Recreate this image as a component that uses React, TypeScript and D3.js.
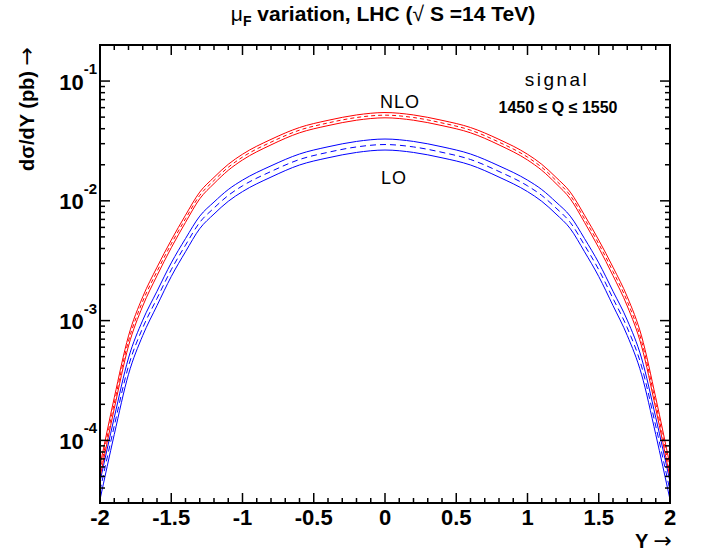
import React from "react";
import * as d3 from "d3";

const rapidity = [
  -2, -1.9, -1.8, -1.7, -1.6, -1.5, -1.4, -1.3, -1.2, -1.1, -1.0, -0.8, -0.6, -0.4, -0.2, 0,
  0.2, 0.4, 0.6, 0.8, 1.0, 1.1, 1.2, 1.3, 1.4, 1.5, 1.6, 1.7, 1.8, 1.9, 2,
];

const nloCentral = [
  5.5e-5, 2.04e-4, 6.76e-4, 1.45e-3, 2.57e-3, 4.37e-3, 7.08e-3, 1.109e-2, 1.479e-2, 1.905e-2, 2.317e-2, 3.09e-2, 3.89e-2, 4.47e-2, 4.96e-2, 5.19e-2,
  4.96e-2, 4.47e-2, 3.89e-2, 3.09e-2, 2.317e-2, 1.905e-2, 1.479e-2, 1.109e-2, 7.08e-3, 4.37e-3, 2.57e-3, 1.45e-3, 6.76e-4, 2.04e-4, 5.5e-5,
];
const nloUpper = [
  6.17e-5, 2.27e-4, 7.45e-4, 1.58e-3, 2.79e-3, 4.7e-3, 7.59e-3, 1.183e-2, 1.57e-2, 2.018e-2, 2.449e-2, 3.258e-2, 4.093e-2, 4.699e-2, 5.212e-2, 5.458e-2,
  5.212e-2, 4.699e-2, 4.093e-2, 3.258e-2, 2.449e-2, 2.018e-2, 1.57e-2, 1.183e-2, 7.59e-3, 4.7e-3, 2.79e-3, 1.58e-3, 7.45e-4, 2.27e-4, 6.17e-5,
];
const nloLower = [
  4.9e-5, 1.84e-4, 6.14e-4, 1.324e-3, 2.371e-3, 4.055e-3, 6.607e-3, 1.04e-2, 1.393e-2, 1.799e-2, 2.193e-2, 2.931e-2, 3.698e-2, 4.246e-2, 4.71e-2, 4.932e-2,
  4.71e-2, 4.246e-2, 3.698e-2, 2.931e-2, 2.193e-2, 1.799e-2, 1.393e-2, 1.04e-2, 6.607e-3, 4.055e-3, 2.371e-3, 1.324e-3, 6.14e-4, 1.84e-4, 4.9e-5,
];
const loCentral = [
  3.8e-5, 1.318e-4, 4.169e-4, 8.71e-4, 1.531e-3, 2.661e-3, 4.266e-3, 6.607e-3, 8.71e-3, 1.109e-2, 1.334e-2, 1.758e-2, 2.213e-2, 2.541e-2, 2.818e-2, 2.951e-2,
  2.818e-2, 2.541e-2, 2.213e-2, 1.758e-2, 1.334e-2, 1.109e-2, 8.71e-3, 6.607e-3, 4.266e-3, 2.661e-3, 1.531e-3, 8.71e-4, 4.169e-4, 1.318e-4, 3.8e-5,
];
const loUpper = [
  4.52e-5, 1.552e-4, 4.875e-4, 1.009e-3, 1.758e-3, 3.034e-3, 4.842e-3, 7.447e-3, 9.772e-3, 1.242e-2, 1.489e-2, 1.959e-2, 2.46e-2, 2.825e-2, 3.133e-2, 3.281e-2,
  3.133e-2, 2.825e-2, 2.46e-2, 1.959e-2, 1.489e-2, 1.242e-2, 9.772e-3, 7.447e-3, 4.842e-3, 3.034e-3, 1.758e-3, 1.009e-3, 4.875e-4, 1.552e-4, 4.52e-5,
];
const loLower = [
  3.2e-5, 1.119e-4, 3.565e-4, 7.516e-4, 1.334e-3, 2.333e-3, 3.758e-3, 5.861e-3, 7.762e-3, 9.908e-3, 1.194e-2, 1.578e-2, 1.991e-2, 2.286e-2, 2.535e-2, 2.655e-2,
  2.535e-2, 2.286e-2, 1.991e-2, 1.578e-2, 1.194e-2, 9.908e-3, 7.762e-3, 5.861e-3, 3.758e-3, 2.333e-3, 1.334e-3, 7.516e-4, 3.565e-4, 1.119e-4, 3.2e-5,
];

const xMajorTicks = [-2, -1.5, -1, -0.5, 0, 0.5, 1, 1.5, 2];
const xTickLabels = ["-2", "-1.5", "-1", "-0.5", "0", "0.5", "1", "1.5", "2"];
const yMajorExponents = [-4, -3, -2, -1];
const yDomain = [3e-5, 0.2];
const xDomain = [-2, 2];

const W = 703;
const H = 553;
const M = { left: 100, right: 670, top: 45, bottom: 503 };
const FONT = "'Liberation Sans', Arial, Helvetica, sans-serif";
const ARROW_FONT = "'DejaVu Sans', sans-serif";

export default function App() {
  const x = d3.scaleLinear().domain(xDomain).range([M.left, M.right]);
  const y = d3.scaleLog().domain(yDomain).range([M.bottom, M.top]);

  const mk = (vals: number[]) =>
    d3
      .line<number>()
      .x((_, i) => x(rapidity[i]))
      .y((v) => y(v))
      .curve(d3.curveMonotoneX)(vals) as string;

  const xMinor: number[] = d3
    .range(-20, 21)
    .map((k) => k / 10)
    .filter((v) => Math.abs(v * 2 - Math.round(v * 2)) > 1e-6);
  const yMinor: number[] = [];
  for (let e = -5; e <= -1; e++) {
    for (let k = 2; k <= 9; k++) {
      const v = k * Math.pow(10, e);
      if (v >= yDomain[0] * 0.999 && v <= yDomain[1] * 1.001) yMinor.push(v);
    }
  }

  const majLen = 10;
  const minLen = 5;

  return (
    <svg
      width={W}
      height={H}
      style={{ position: "absolute", left: 0, top: 0, background: "#fff" }}
      fontFamily={FONT}
    >
      <rect width={W} height={H} fill="#fff" />
      <defs>
        <clipPath id="plotclip">
          <rect x={M.left} y={M.top} width={M.right - M.left} height={M.bottom - M.top} />
        </clipPath>
      </defs>

      {/* curves */}
      <g clipPath="url(#plotclip)" fill="none" strokeWidth={1}>
        <path d={mk(loUpper)} stroke="#0000ff" />
        <path d={mk(loCentral)} stroke="#0000ff" strokeDasharray="6,4" />
        <path d={mk(loLower)} stroke="#0000ff" />
        <path d={mk(nloUpper)} stroke="#ff0000" />
        <path d={mk(nloCentral)} stroke="#ff0000" strokeDasharray="4,3" />
        <path d={mk(nloLower)} stroke="#ff0000" />
      </g>

      {/* ticks on all four sides */}
      <g stroke="#000" strokeWidth={1.5}>
        {xMajorTicks.map((t) => (
          <g key={"xm" + t}>
            <line x1={x(t)} x2={x(t)} y1={M.bottom} y2={M.bottom - majLen} />
            <line x1={x(t)} x2={x(t)} y1={M.top} y2={M.top + majLen} />
          </g>
        ))}
        {xMinor.map((t) => (
          <g key={"xn" + t}>
            <line x1={x(t)} x2={x(t)} y1={M.bottom} y2={M.bottom - minLen} />
            <line x1={x(t)} x2={x(t)} y1={M.top} y2={M.top + minLen} />
          </g>
        ))}
        {yMajorExponents.map((e) => (
          <g key={"ym" + e}>
            <line x1={M.left} x2={M.left + majLen} y1={y(Math.pow(10, e))} y2={y(Math.pow(10, e))} />
            <line x1={M.right} x2={M.right - majLen} y1={y(Math.pow(10, e))} y2={y(Math.pow(10, e))} />
          </g>
        ))}
        {yMinor.map((v) => (
          <g key={"yn" + v}>
            <line x1={M.left} x2={M.left + minLen} y1={y(v)} y2={y(v)} />
            <line x1={M.right} x2={M.right - minLen} y1={y(v)} y2={y(v)} />
          </g>
        ))}
      </g>

      {/* frame */}
      <rect
        x={M.left}
        y={M.top}
        width={M.right - M.left}
        height={M.bottom - M.top}
        fill="none"
        stroke="#000"
        strokeWidth={2}
      />

      {/* x tick labels */}
      <g fontSize={22} fontWeight="bold" textAnchor="middle" fill="#000">
        {xMajorTicks.map((t, i) => (
          <text key={"xl" + t} x={x(t)} y={525}>
            {xTickLabels[i]}
          </text>
        ))}
      </g>

      {/* y tick labels */}
      <g fontWeight="bold" fill="#000">
        {yMajorExponents.map((e) => (
          <text key={"yl" + e} x={M.left - 3} y={y(Math.pow(10, e)) + 8.5} textAnchor="end" fontSize={22}>
            10
            <tspan fontSize={15} dy={-15.5}>
              {String(e)}
            </tspan>
          </text>
        ))}
      </g>

      {/* axis titles */}
      <text x={672} y={548} textAnchor="end" fontSize={20} fontWeight="bold" fill="#000">
        Y{" "}
        <tspan fontWeight="normal" fontFamily={ARROW_FONT} fontSize={22}>
          →
        </tspan>
      </text>
      <text
        transform="translate(34,47) rotate(-90)"
        textAnchor="end"
        fontSize={20}
        fontWeight="bold"
        fill="#000"
      >
        dσ/dY (pb){"  "}
        <tspan fontWeight="normal" fontFamily={ARROW_FONT} fontSize={22}>
          →
        </tspan>
      </text>

      {/* title */}
      <text x={383} y={21} textAnchor="middle" fontSize={21} fontWeight="bold" fill="#000">
        <tspan fontWeight="normal">μ</tspan>
        <tspan fontSize={14} dy={5}>
          F
        </tspan>
        <tspan dy={-5}> variation, LHC (</tspan>
        <tspan fontWeight="normal">√</tspan>
        <tspan> S =14 TeV)</tspan>
      </text>

      {/* annotations */}
      <text x={400} y={108} textAnchor="middle" fontSize={18} letterSpacing={1} fill="#000">
        NLO
      </text>
      <text x={394} y={184} textAnchor="middle" fontSize={18} letterSpacing={1} fill="#000">
        LO
      </text>
      <text x={557} y={86} textAnchor="middle" fontSize={19} letterSpacing={2.5} fill="#000">
        signal
      </text>
      <text x={558} y={113} textAnchor="middle" fontSize={16} fontWeight="bold" fill="#000">
        1450 ≤ Q ≤ 1550
      </text>
    </svg>
  );
}
